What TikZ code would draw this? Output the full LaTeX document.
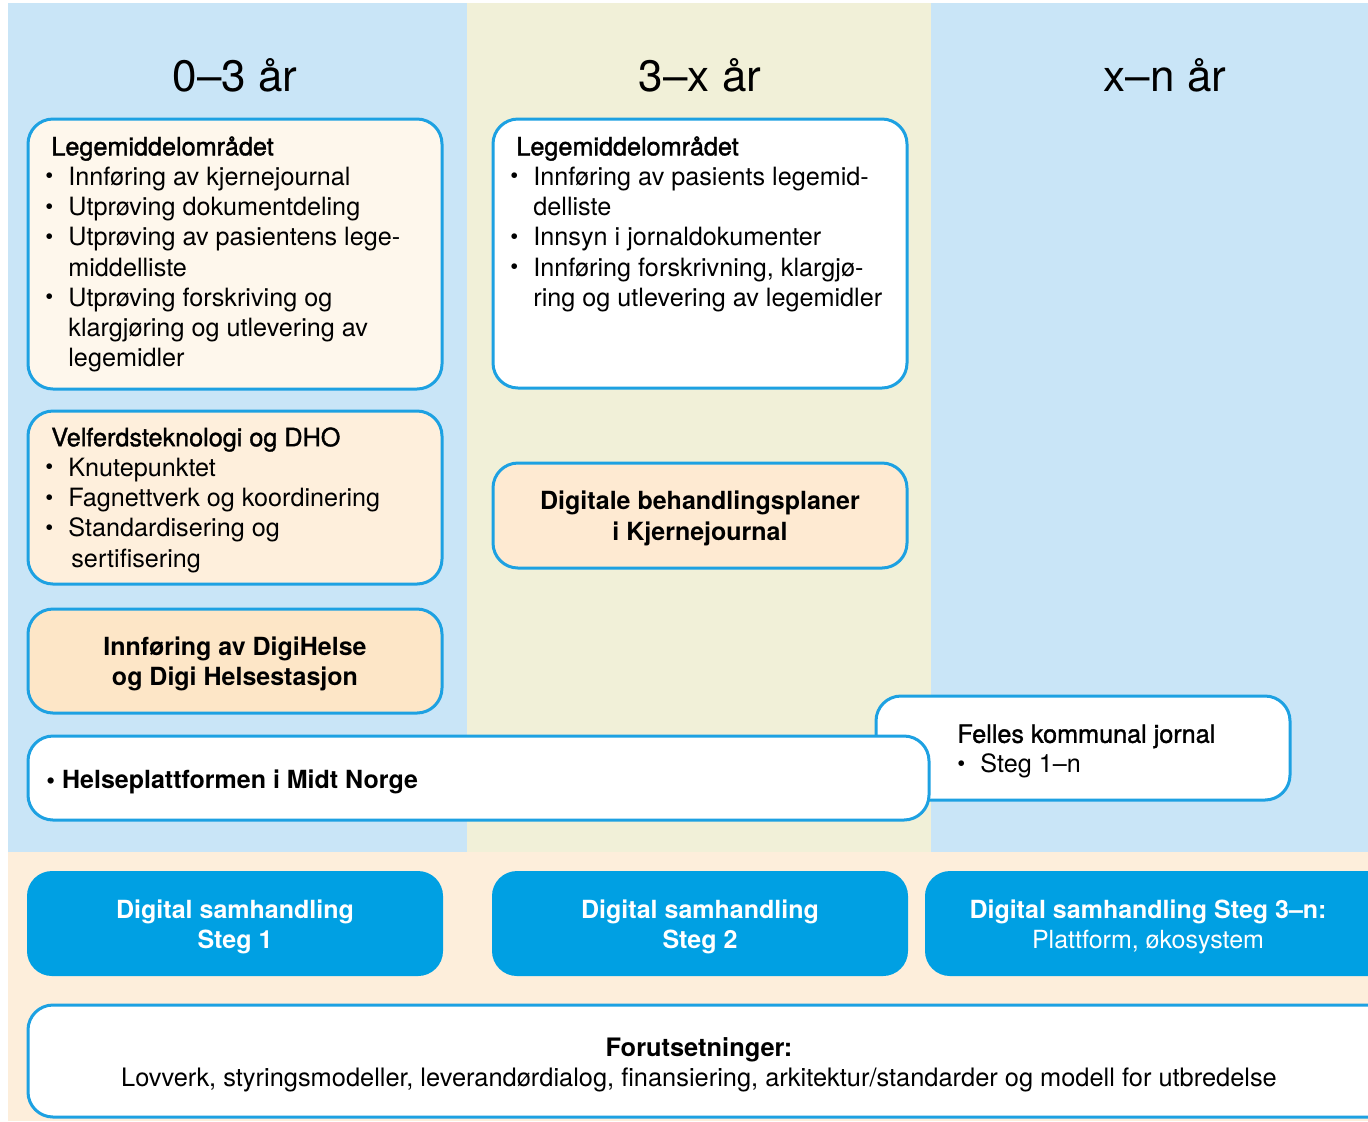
\documentclass[tikz,border=0pt]{standalone}
\usepackage{fontspec}
\setmainfont{TeX Gyre Heros}
\newfontfamily\medium[FakeBold=1.4]{TeX Gyre Heros}
\usetikzlibrary{fit}

\definecolor{bgblue}{HTML}{C9E5F7}
\definecolor{bgbeige}{HTML}{F1F0D8}
\definecolor{bgpeach}{HTML}{FDEEDB}
\definecolor{edge}{HTML}{1DA1E2}
\definecolor{btnblue}{HTML}{00A0E3}
\definecolor{fillcream}{HTML}{FEF7EC}
\definecolor{fillpeachA}{HTML}{FEEFDC}
\definecolor{fillpeachB}{HTML}{FDE6C7}
\definecolor{fillpeachC}{HTML}{FEEAD2}

% small list bullet and hanging indent
\newcommand\bl{\makebox[11.5pt][l]{\raisebox{0.12ex}{\scalebox{0.9}{\textbullet}}}}
\newcommand\ind{\hspace*{11.5pt}}

\tikzset{
  panel/.style={draw=edge, line width=1.5pt, rounded corners=12.5pt, inner sep=0pt},
  btn/.style={fill=btnblue, rounded corners=12.5pt, inner sep=0pt},
  listtext/.style={anchor=north west, inner sep=0pt, align=left,
    font=\fontsize{12.6}{15.1}\selectfont},
  centertext/.style={align=center, inner sep=0pt, yshift=-1.5pt,
    font=\fontsize{12.5}{15.3}\selectfont\bfseries},
  btntext/.style={align=center, inner sep=0pt, text=white, yshift=-1.5pt,
    font=\fontsize{12.5}{15}\selectfont},
  header/.style={inner sep=0pt, font=\fontsize{22}{26}\selectfont},
}

\begin{document}
\begin{tikzpicture}[x=0.5pt,y=-0.5pt]
\useasboundingbox (0,0) rectangle (1368,1121);
\clip (0,0) rectangle (1368,1121);

% background columns and bottom band
\fill[white] (0,0) rectangle (1368,1121);
\fill[bgblue] (8,3) rectangle (467,852);
\fill[bgbeige] (467,3) rectangle (931,852);
\fill[bgblue] (931,3) rectangle (1368,852);
\fill[bgpeach] (8,852) rectangle (1368,1121);

% column headings
\node[header] (h1) at (235,75) {0–3 år};
\node[header] (h2) at (700,75) {3–x år};
\node[header] (h3) at (1165,75) {x–n år};

% boxes
\node[panel, fill=fillcream, fit={(28,119)(442,389)}] (b1) {};
\node[panel, fill=white, fit={(493,119)(907,388)}] (b2) {};
\node[panel, fill=fillpeachA, fit={(28,411)(442,584)}] (b3) {};
\node[panel, fill=fillpeachB, fit={(28,609)(442,713)}] (b4) {};
\node[panel, fill=fillpeachC, fit={(493,463)(907,568)}] (b5) {};
\node[panel, fill=white, fit={(876,696)(1290,800)}] (b7) {};
\node[panel, fill=white, fit={(28,736)(929,820)}] (b6) {};

% lower row
\node[btn, fit={(27,871)(443,976)}] (s1) {};
\node[btn, fit={(492,871)(908,976)}] (s2) {};
\node[btn, fit={(925,871)(1420,976)}] (s3) {};
\node[panel, fill=white, fit={(28,1005)(1420,1117)}] (fo) {};

% box texts
\node[listtext] (t1) at (45,136) {%
  \hspace*{3pt}{\medium Legemiddelområdet}\\
  \bl Innføring av kjernejournal\\
  \bl Utprøving dokumentdeling\\
  \bl Utprøving av pasientens lege-\\
  \ind middelliste\\
  \bl Utprøving forskriving og\\
  \ind klargjøring og utlevering av\\
  \ind legemidler};

\node[listtext] (t2) at (510,136) {%
  \hspace*{3pt}{\medium Legemiddelområdet}\\
  \bl Innføring av pasients legemid-\\
  \ind delliste\\
  \bl Innsyn i jornaldokumenter\\
  \bl Innføring forskrivning, klargjø-\\
  \ind ring og utlevering av legemidler};

\node[listtext] (t3) at (45,427) {%
  \hspace*{3pt}{\medium Velferdsteknologi og DHO}\\
  \bl Knutepunktet\\
  \bl Fagnettverk og koordinering\\
  \bl Standardisering og\\
  \ind\hspace*{1.5pt}sertifisering};

\node[centertext] (t4) at (b4.center) {Innføring av DigiHelse\\og Digi Helsestasjon};
\node[centertext] (t5) at (b5.center) {Digitale behandlingsplaner\\i Kjernejournal};

\node[listtext] (t7) at (957,724) {%
  {\medium Felles kommunal jornal}\\
  \bl Steg 1–n};

\node[anchor=west, inner sep=0pt, font=\fontsize{12.5}{15}\selectfont\bfseries]
  (t6) at (46,782) {\textbullet\ Helseplattformen i Midt Norge};

\node[btntext] (u1) at (s1.center) {\textbf{Digital samhandling}\\\textbf{Steg 1}};
\node[btntext] (u2) at (s2.center) {\textbf{Digital samhandling}\\\textbf{Steg 2}};
\node[btntext] (u3) at (1148,924) {\textbf{Digital samhandling Steg 3–n:}\\Plattform, økosystem};

\node[align=center, inner sep=0pt, yshift=-1.5pt, font=\fontsize{12.7}{15.1}\selectfont]
  (t8) at (699,1062) {\textbf{Forutsetninger:}\\Lovverk, styringsmodeller, leverandørdialog, finansiering, arkitektur/standarder og modell for utbredelse};
\end{tikzpicture}
\end{document}
